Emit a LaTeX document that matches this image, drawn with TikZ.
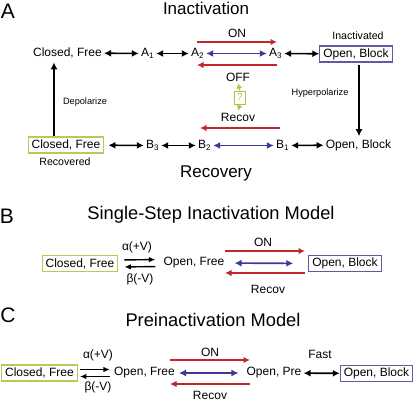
\documentclass[tikz,border=0pt]{standalone}
\usepackage{fontspec}
\setmainfont{Liberation Sans}
\usetikzlibrary{arrows.meta}
\definecolor{rd}{HTML}{C1272D}
\definecolor{bl}{HTML}{3A3A98}
\definecolor{gn}{HTML}{A8C545}
\definecolor{bbox}{HTML}{5C5CA6}
\definecolor{gbox}{HTML}{B4CC55}
\tikzset{
  t/.style={inner sep=2pt, font=\fontsize{12}{14}\selectfont},
  sm/.style={inner sep=1pt, font=\fontsize{9.2}{11}\selectfont},
  md/.style={inner sep=1pt, font=\fontsize{10.6}{12}\selectfont},
  ttl/.style={inner sep=1pt, font=\fontsize{17}{20}\selectfont},
  ttlb/.style={inner sep=1pt, font=\fontsize{18.3}{21}\selectfont},
  pl/.style={inner sep=1pt, font=\fontsize{21}{24}\selectfont},
  bbx/.style={t, draw=bbox, line width=1.1pt, inner xsep=3.5pt, minimum height=16pt},
  gbx/.style={t, draw=gbox, line width=1.1pt, inner xsep=3.5pt, minimum height=16pt},
  dbl/.style={line width=1.6pt, {Latex[length=7pt,width=7pt]}-{Latex[length=7pt,width=7pt]}},
  blu/.style={dbl, draw=bl},
  one/.style={line width=1.6pt, -{Latex[length=7pt,width=7pt]}},
  red/.style={line width=1.7pt, -{Latex[length=6.5pt,width=6.5pt]}, draw=rd, fill=rd},
  grn/.style={line width=1.1pt, draw=gn, -{Latex[length=5pt,width=6pt]}},
  eq/.style={line width=1.4pt, -{Latex[length=6.5pt,width=5.5pt]}},
}
\begin{document}
\begin{tikzpicture}[x=1pt,y=-1pt]
\useasboundingbox (0,0) rectangle (416,402);
% ---------- Panel A
\node[pl] (la) at (8,11) {A};
\node[ttl] (tinact) at (206,8) {Inactivation};
\node[t] (cf1) at (67.5,53) {Closed, Free};
\node[t] (a1) at (147.5,53.5) {A\textsubscript{1}};
\node[t] (a2) at (197.5,53.5) {A\textsubscript{2}};
\node[t] (a3) at (275.5,53.5) {A\textsubscript{3}};
\node[bbx] (ob1) at (356,54) {Open, Block};
\node[md] (inact) at (358,36) {Inactivated};
\draw[dbl] (cf1) -- (a1);
\draw[dbl] (a1) -- (a2);
\draw[blu] (a2) -- (a3);
\draw[dbl] (a3) -- (ob1);
\node[t] (on1) at (237,33) {ON};
\coordinate (r1a) at (197,42); \coordinate (r1b) at (277,42);
\draw[red] (r1a) -- (r1b);
\coordinate (r2a) at (277,65); \coordinate (r2b) at (197,65);
\draw[red] (r2a) -- (r2b);
\node[t] (off) at (238,77) {OFF};
\node[draw=gn, line width=0.8pt, inner sep=0pt, minimum width=11pt, minimum height=13pt,
      text=gn, font=\fontsize{10}{12}\selectfont] (q) at (240,97.5) {?};
\node[t] (recov1) at (238,117) {Recov};
\draw[grn] (q.north) -- (off.south);
\draw[grn] (q.south) -- (recov1.north);
\coordinate (r3a) at (280,128); \coordinate (r3b) at (200,128);
\draw[red] (r3a) -- (r3b);
\node[gbx] (cf2) at (66,145) {Closed, Free};
\node[md] (recd) at (65,162) {Recovered};
\node[t] (b3) at (152.5,145.5) {B\textsubscript{3}};
\node[t] (b2) at (204.5,145.5) {B\textsubscript{2}};
\node[t] (b1) at (282.5,145.5) {B\textsubscript{1}};
\node[t] (ob2) at (358.5,145) {Open, Block};
\draw[dbl, shorten <=4pt] (cf2) -- (b3);
\draw[dbl] (b3) -- (b2);
\draw[blu] (b2) -- (b1);
\draw[dbl] (b1) -- (ob2);
\node[ttl] (trec) at (216,173) {Recovery};
\draw[one, shorten >=2pt] ([xshift=-12pt]cf2.north) -- ([xshift=-13.5pt]cf1.south);
\node[sm] (dep) at (85,102) {Depolarize};
\draw[one, shorten <=2pt, shorten >=1pt] ([xshift=3pt]ob1.south) -- ([xshift=0.5pt]ob2.north);
\node[sm] (hyp) at (320,93) {Hyperpolarize};
% ---------- Panel B
\node[pl] (lb) at (7,216) {B};
\node[ttlb] (tB) at (211,215) {Single-Step Inactivation Model};
\node[gbx] (cfB) at (80,263.5) {Closed, Free};
\node[t] (ofB) at (194,263) {Open, Free};
\node[bbx] (obB) at (345,263.5) {Open, Block};
\node[t] (alB) at (137,247) {α(+V)};
\node[t] (beB) at (140,279) {β(-V)};
\draw[eq, shorten <=6pt, shorten >=6pt] ([yshift=3.5pt]cfB.east) -- ([yshift=3.5pt]ofB.west);
\draw[eq, shorten <=6pt, shorten >=6pt] ([yshift=-3.5pt]ofB.west) -- ([yshift=-3.5pt]cfB.east);
\draw[blu, shorten <=8pt, shorten >=15pt] (ofB) -- (obB);
\node[t] (onB) at (263,242) {ON};
\coordinate (rB1a) at (225,251); \coordinate (rB1b) at (305,251);
\draw[red] (rB1a) -- (rB1b);
\coordinate (rB2a) at (305,273); \coordinate (rB2b) at (225,273);
\draw[red] (rB2a) -- (rB2b);
\node[t] (recB) at (268,289) {Recov};
% ---------- Panel C
\node[pl] (lc) at (8,315) {C};
\node[ttlb] (tC) at (213,320) {Preinactivation Model};
\node[gbx] (cfC) at (39.5,373) {Closed, Free};
\node[t] (ofC) at (144.5,373) {Open, Free};
\node[t] (opC) at (274,373) {Open, Pre};
\node[bbx] (obC) at (376.5,373.5) {Open, Block};
\node[t] (alC) at (98,355) {α(+V)};
\node[t] (beC) at (98,387) {β(-V)};
\draw[eq, shorten <=2pt, shorten >=2pt] ([yshift=3.5pt]cfC.east) -- ([yshift=3.5pt]ofC.west);
\draw[eq, shorten <=2pt, shorten >=2pt] ([yshift=-3.5pt]ofC.west) -- ([yshift=-3.5pt]cfC.east);
\draw[blu, shorten <=2pt, shorten >=6pt] (ofC) -- (opC);
\draw[dbl] (opC) -- (obC);
\node[t] (onC) at (210,352) {ON};
\coordinate (rC1a) at (170,360); \coordinate (rC1b) at (250,360);
\draw[red] (rC1a) -- (rC1b);
\coordinate (rC2a) at (250,384); \coordinate (rC2b) at (170,384);
\draw[red] (rC2a) -- (rC2b);
\node[t, inner sep=0.5pt] (recC) at (210,395.5) {Recov};
\node[t] (fast) at (320,354) {Fast};
\end{tikzpicture}
\end{document}
